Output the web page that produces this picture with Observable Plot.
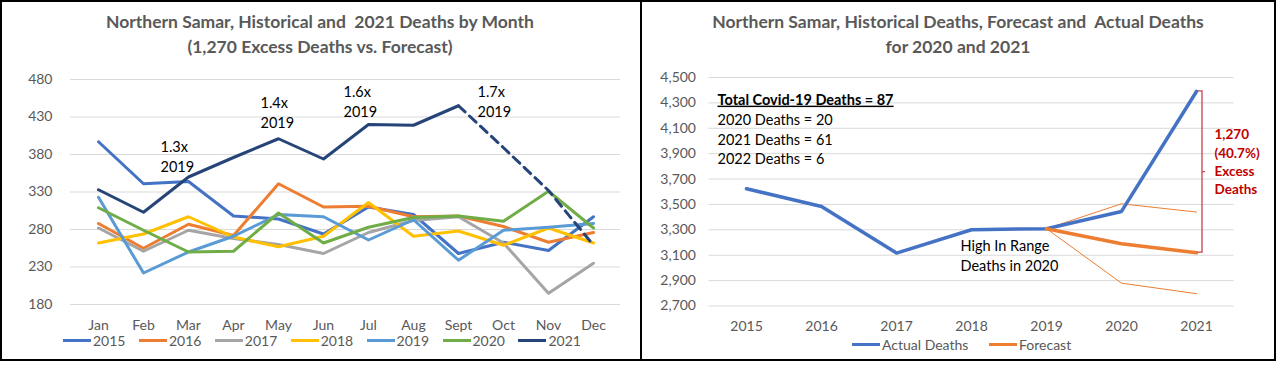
<!DOCTYPE html>
<html><head><meta charset="utf-8">
<script src="https://cdn.jsdelivr.net/npm/d3@7"></script>
<script src="https://cdn.jsdelivr.net/npm/@observablehq/plot@0.6"></script>
<style>
body{margin:0;background:#fff;font-family:Lato,"Open Sans",sans-serif;}
#wrap{position:relative;width:1280px;height:368px;overflow:hidden;background:#fff;}
.svgbox{position:absolute;top:0;}
.title{position:absolute;top:10px;text-align:center;font-weight:bold;color:#595959;font-size:17.5px;line-height:24.5px;}
.legend{position:absolute;font-size:14px;color:#595959;height:18px;}
.item{position:absolute;top:0;display:flex;align-items:center;height:18px;white-space:nowrap;}
.sw{display:inline-block;width:28px;height:3px;margin-right:2px;}
.frame{position:absolute;border:2px solid #000;box-sizing:border-box;}
</style></head>
<body><div id="wrap"></div>
<script>
// ---------- Left chart data ----------
const months = ["Jan","Feb","Mar","Apr","May","Jun","Jul","Aug","Sept","Oct","Nov","Dec"];
const years = ["2015","2016","2017","2018","2019","2020","2021"];
const colors = ["#4472C4","#ED7D31","#A5A5A5","#FFC000","#5B9BD5","#70AD47","#264478"];
const d2015 = [397,341,344,298,294,274,310,300,248,263,252,297];
const d2016 = [288,255,287,272,341,310,311,297,298,284,263,276];
const d2017 = [282,251,279,268,260,248,276,292,297,262,195,235];
const d2018 = [262,274,297,270,257,271,316,271,278,259,282,262];
const d2019 = [323,222,250,271,300,297,266,293,239,279,283,288];
const d2020 = [309,279,250,251,302,262,283,296,298,291,331,282];
const d2021 = [333,303,350,376,401,374,420,419,445,389,332,259];
const leftTicks = [180,230,280,330,380,430,480];
const ratioNotes = ["1.3x\n2019","1.4x\n2019","1.6x\n2019","1.7x\n2019"];
const ratioMonths = ["Mar","May","Jul","Sept"];
const ratioLevels = [378,437,452,452];
const ratioDx = [-28,-18,-25,19];

// ---------- Right chart data ----------
const yrs = [2015,2016,2017,2018,2019,2020,2021];
const actual = [3624,3484,3117,3301,3309,3445,4390];
const fcYears = [2019,2020,2021];
const forecast = [3309,3190,3120];
const fcHigh = [3309,3505,3440];
const fcLow = [3309,2880,2797];
const rightTicks = [2700,2900,3100,3300,3500,3700,3900,4100,4300,4500];
const infoHead = "Total Covid-19 Deaths = 87";
const infoLines = ["2020 Deaths = 20","2021 Deaths = 61","2022 Deaths = 6"];
const rangeNote = "High In Range\nDeaths in 2020";
const excessNote = "1,270\n(40.7%)\nExcess\nDeaths";

const wrap = document.getElementById("wrap");
const FONT = "Lato, 'Open Sans', sans-serif";

// ----- left plot -----
const series = [d2015,d2016,d2017,d2018,d2019,d2020,d2021];
const solidRows = [], dashRows = [];
series.forEach((vals, k) => {
  vals.forEach((v, i) => {
    const r = {year: years[k], month: months[i], value: v};
    if (years[k] !== "2021" || i <= 8) solidRows.push(r);
    if (years[k] === "2021" && i >= 8) dashRows.push(r);
  });
});
const notes = ratioNotes.map((t,i)=>({text:t, month:ratioMonths[i], value:ratioLevels[i], dx:ratioDx[i]}));

const left = Plot.plot({
  width: 640, height: 368,
  marginLeft: 70, marginRight: 20, marginTop: 79, marginBottom: 64,
  style: {fontFamily: FONT, fontSize: "14px", color: "#595959", background: "transparent", overflow: "visible"},
  x: {type: "point", domain: months, padding: 0.5},
  y: {domain: [180, 480]},
  color: {domain: years, range: colors},
  marks: [
    Plot.gridY(leftTicks, {stroke: "#d9d9d9", strokeOpacity: 1}),
    Plot.axisY(leftTicks, {tickSize: 0, tickPadding: 18, label: null}),
    Plot.axisX({tickSize: 0, tickPadding: 16, label: null}),
    Plot.line(solidRows, {x: "month", y: "value", z: "year", stroke: "year", strokeWidth: 3, strokeLinejoin: "round"}),
    Plot.line(dashRows, {x: "month", y: "value", z: "year", stroke: "year", strokeWidth: 3, strokeDasharray: "9,6"}),
    ...notes.map(n => Plot.text([n], {x: "month", y: "value", text: "text", dx: n.dx, textAnchor: "start", lineAnchor: "middle", lineHeight: 1.35, fill: "#000", fontSize: 14.5}))
  ]
});

// ----- right plot -----
const actRows = yrs.map((y,i)=>({year:y, value:actual[i]}));
const fcRows = fcYears.map((y,i)=>({year:y, value:forecast[i]}));
const hiRows = fcYears.map((y,i)=>({year:y, value:fcHigh[i]}));
const loRows = fcYears.map((y,i)=>({year:y, value:fcLow[i]}));

function bracket(index, scales) {
  const x = scales.x(2021) + 6;
  const y1 = scales.y(actual[actual.length-1]);
  const y2 = scales.y(forecast[forecast.length-1]);
  const g = d3.create("svg:g").attr("fill","none").attr("stroke","#C8434B").attr("stroke-width",1.3);
  g.append("path").attr("d", `M${x-5},${y1}H${x}V${y2}H${x-5}M${x},${(y1+y2)/2}h3`);
  return g.node();
}

const right = Plot.plot({
  width: 635, height: 368,
  marginLeft: 68.5, marginRight: 41.5, marginTop: 77, marginBottom: 62.5,
  style: {fontFamily: FONT, fontSize: "14px", color: "#595959", background: "transparent", overflow: "visible"},
  x: {type: "point", domain: yrs, padding: 0.5},
  y: {domain: [2700, 4500]},
  marks: [
    Plot.gridY(rightTicks, {stroke: "#d9d9d9", strokeOpacity: 1}),
    Plot.axisY(rightTicks, {tickSize: 0, tickPadding: 13, tickFormat: d3.format(","), label: null}),
    Plot.axisX({tickSize: 0, tickPadding: 15, tickFormat: d => String(d), label: null}),
    Plot.line(hiRows, {x: "year", y: "value", stroke: "#ED7D31", strokeWidth: 1}),
    Plot.line(loRows, {x: "year", y: "value", stroke: "#ED7D31", strokeWidth: 1}),
    Plot.line(actRows, {x: "year", y: "value", stroke: "#4472C4", strokeWidth: 3.5, strokeLinejoin: "round"}),
    Plot.line(fcRows, {x: "year", y: "value", stroke: "#ED7D31", strokeWidth: 3.5, strokeLinejoin: "round"}),
    bracket,
    Plot.text([excessNote], {x: () => 2021, y: () => 3843, text: d => d, dx: 18, textAnchor: "start", lineAnchor: "middle", lineHeight: 1.35, fill: "#C00000", fontWeight: "bold", fontSize: 13.5}),
    Plot.text([rangeNote], {x: () => 2018, y: () => 3106, text: d => d, dx: -11, textAnchor: "start", lineAnchor: "middle", lineHeight: 1.35, fill: "#000", fontSize: 14.5}),
    Plot.text([infoHead], {frameAnchor: "top-left", text: d => d, dx: 8.5, dy: 22.5, textAnchor: "start", lineAnchor: "middle", fill: "#000", fontWeight: "bold", fontSize: 14.5}),
    Plot.text([infoLines.join("\n")], {frameAnchor: "top-left", text: d => d, dx: 8.5, dy: 61, textAnchor: "start", lineAnchor: "middle", lineHeight: 1.33, fill: "#000", fontSize: 14.5})
  ]
});
d3.select(right).selectAll("text").filter(function(){ return this.textContent === infoHead; }).style("text-decoration", "underline");

function place(el, leftPx) {
  const box = document.createElement("div");
  box.className = "svgbox"; box.style.left = leftPx + "px";
  box.appendChild(el); wrap.appendChild(box);
}
place(left, 0);
place(right, 640);

// titles
function title(text, leftPx, width) {
  const t = document.createElement("div");
  t.className = "title"; t.style.left = leftPx + "px"; t.style.width = width + "px";
  t.innerHTML = text; wrap.appendChild(t);
}
title("Northern Samar, Historical and&nbsp; 2021 Deaths by Month<br>(1,270 Excess Deaths vs. Forecast)", 0, 640);
title("Northern Samar, Historical Deaths, Forecast and&nbsp; Actual Deaths<br>for 2020 and 2021", 640, 636);

// legends
function legend(items, leftPx, topPx, step) {
  const lg = document.createElement("div");
  lg.className = "legend"; lg.style.left = leftPx + "px"; lg.style.top = topPx + "px";
  items.forEach((it, i) => {
    const d = document.createElement("div");
    d.className = "item"; d.style.left = (i * step) + "px";
    d.innerHTML = `<span class="sw" style="background:${it.color}"></span><span>${it.label}</span>`;
    lg.appendChild(d);
  });
  wrap.appendChild(lg);
}
legend(years.map((y,i)=>({label:y, color:colors[i]})), 63, 331, 75.9);
legend([{label:"Actual Deaths", color:"#4472C4"}, {label:"Forecast", color:"#ED7D31"}], 852, 335, 137);

// frames
function frame(l, t, w, h) {
  const f = document.createElement("div");
  f.className = "frame";
  Object.assign(f.style, {left: l+"px", top: t+"px", width: w+"px", height: h+"px"});
  wrap.appendChild(f);
}
frame(0, 0, 642, 361);
frame(640, 0, 636, 361);
</script></body></html>
